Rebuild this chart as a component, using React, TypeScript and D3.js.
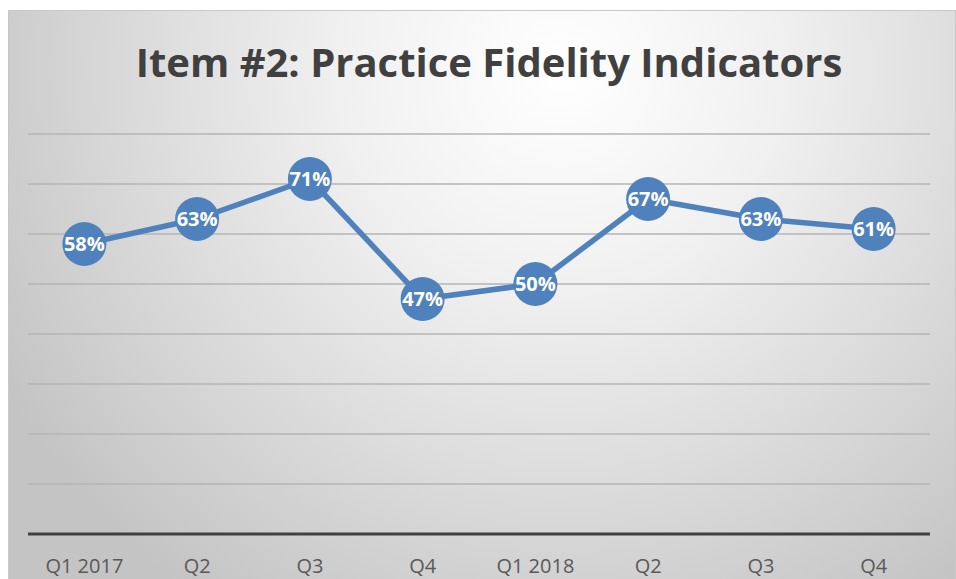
import React, { useEffect, useRef } from 'react'
import * as d3 from 'd3'

const categories = ['Q1 2017', 'Q2', 'Q3', 'Q4', 'Q1 2018', 'Q2', 'Q3', 'Q4']
const values = [58, 63, 71, 47, 50, 67, 63, 61]
const yTicks = [10, 20, 30, 40, 50, 60, 70, 80]

const W = 956
const H = 579

export default function App() {
  const ref = useRef<SVGSVGElement>(null)

  useEffect(() => {
    const svg = d3.select(ref.current)
    svg.selectAll('*').remove()

    const defs = svg.append('defs')
    const grad = defs
      .append('radialGradient')
      .attr('id', 'bg')
      .attr('gradientUnits', 'userSpaceOnUse')
      .attr('cx', 560)
      .attr('cy', 70)
      .attr('r', 640)
    grad.append('stop').attr('offset', '0%').attr('stop-color', '#ffffff')
    grad.append('stop').attr('offset', '35%').attr('stop-color', '#f0f0f0')
    grad.append('stop').attr('offset', '100%').attr('stop-color', '#c4c4c4')

    svg
      .append('rect')
      .attr('x', 8.5)
      .attr('y', 10.5)
      .attr('width', W - 9)
      .attr('height', H)
      .attr('fill', 'url(#bg)')
      .attr('stroke', '#c8c8c8')
      .attr('stroke-width', 1)

    svg
      .append('text')
      .attr('x', 489)
      .attr('y', 77)
      .attr('text-anchor', 'middle')
      .attr('font-family', 'Open Sans, sans-serif')
      .attr('font-weight', 'bold')
      .attr('font-size', 40)
      .attr('fill', '#404040')
      .text('Item #2: Practice Fidelity Indicators')

    const x = d3.scaleBand<number>().domain(d3.range(categories.length)).range([28, 930])
    const y = d3.scaleLinear().domain([0, 80]).range([534, 134])
    const cx = (i: number) => (x(i) as number) + x.bandwidth() / 2

    const g = svg.append('g')

    g.selectAll('line.grid')
      .data(yTicks)
      .enter()
      .append('line')
      .attr('class', 'grid')
      .attr('x1', 28)
      .attr('x2', 930)
      .attr('y1', d => y(d))
      .attr('y2', d => y(d))
      .attr('stroke', '#b4b4b4')
      .attr('stroke-width', 1.5)

    g.append('line')
      .attr('x1', 28)
      .attr('x2', 930)
      .attr('y1', y(0))
      .attr('y2', y(0))
      .attr('stroke', '#404040')
      .attr('stroke-width', 3)

    g.selectAll('text.cat')
      .data(categories)
      .enter()
      .append('text')
      .attr('class', 'cat')
      .attr('x', (d, i) => cx(i))
      .attr('y', 573)
      .attr('text-anchor', 'middle')
      .attr('font-family', 'Open Sans, sans-serif')
      .attr('font-size', 20)
      .attr('fill', '#595959')
      .text(d => d)

    const line = d3
      .line<number>()
      .x((d, i) => cx(i))
      .y(d => y(d))

    g.append('path')
      .datum(values)
      .attr('d', line)
      .attr('fill', 'none')
      .attr('stroke', '#4f81bd')
      .attr('stroke-width', 5.5)
      .attr('stroke-linejoin', 'round')

    g.selectAll('circle.pt')
      .data(values)
      .enter()
      .append('circle')
      .attr('class', 'pt')
      .attr('cx', (d, i) => cx(i))
      .attr('cy', d => y(d))
      .attr('r', 22)
      .attr('fill', '#4f81bd')

    g.selectAll('text.lbl')
      .data(values)
      .enter()
      .append('text')
      .attr('class', 'lbl')
      .attr('x', (d, i) => cx(i))
      .attr('y', d => y(d) + 7)
      .attr('text-anchor', 'middle')
      .attr('font-family', 'Open Sans, sans-serif')
      .attr('font-weight', 'bold')
      .attr('font-size', 20)
      .attr('fill', '#ffffff')
      .text(d => `${d}%`)
  }, [])

  return (
    <svg
      ref={ref}
      width={W}
      height={H}
      style={{ position: 'absolute', left: 0, top: 0, display: 'block' }}
    />
  )
}
